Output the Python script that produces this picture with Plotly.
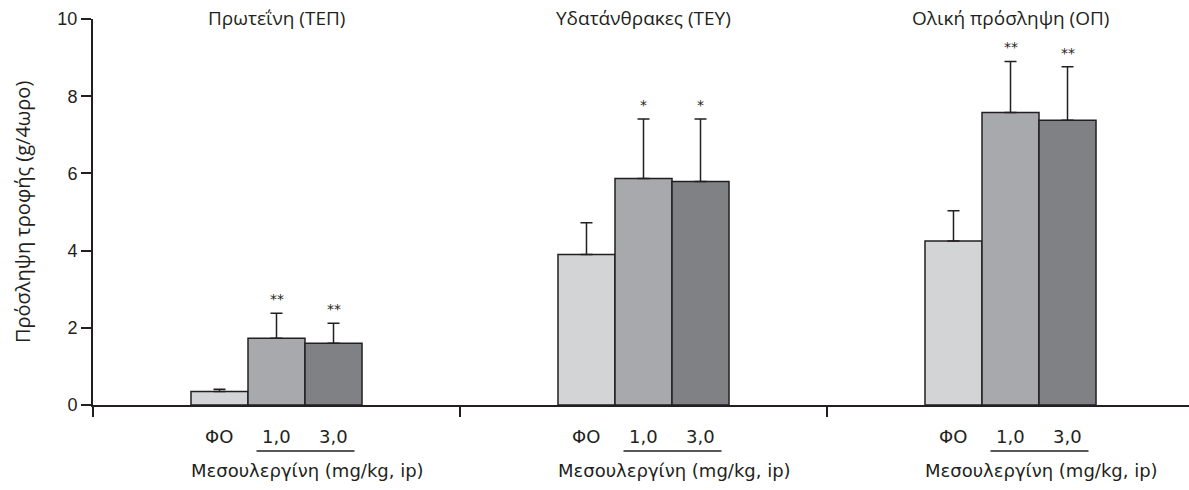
import plotly.graph_objects as go

# ---- data ----
groups = ["Πρωτεΐνη (ΤΕΠ)", "Υδατάνθρακες (ΤΕΥ)", "Ολική πρόσληψη (ΟΠ)"]
doses = ["ΦΟ", "1,0", "3,0"]
means_fo = [0.35, 3.90, 4.25]
means_1 = [1.73, 5.87, 7.58]
means_3 = [1.60, 5.79, 7.38]
sem_fo = [0.06, 0.82, 0.78]
sem_1 = [0.65, 1.54, 1.32]
sem_3 = [0.52, 1.62, 1.38]
stars_fo = ["", "", ""]
stars_1 = ["**", "*", "**"]
stars_3 = ["**", "*", "**"]
drug_label = "Μεσουλεργίνη (mg/kg, ip)"
y_title = "Πρόσληψη τροφής (g/4ωρο)"
y_ticks = [0, 2, 4, 6, 8, 10]

colors = ["#d3d4d6", "#a8a9ad", "#808185"]
edge = "#231f20"
FONT = "DejaVu Sans"
HFONT = "Open Sans"

series = [(means_fo, sem_fo, stars_fo), (means_1, sem_1, stars_1), (means_3, sem_3, stars_3)]
centers = [i + 0.5 for i in range(len(groups))]
BARGAP = 0.534
barw = (1 - BARGAP) / 3

fig = go.Figure()
for j, (m, s, st) in enumerate(series):
    fig.add_trace(go.Bar(
        x=centers, y=m, name=doses[j],
        marker=dict(color=colors[j], line=dict(color=edge, width=1.5)),
        error_y=dict(type="data", array=s, arrayminus=[0] * len(s), symmetric=False,
                     color=edge, thickness=1.5, width=6),
        showlegend=False,
    ))

ann = []
shapes = []
for i, c in enumerate(centers):
    ann.append(dict(x=c, y=1, xref="x", yref="paper", text=groups[i], showarrow=False,
                    yanchor="middle", yshift=1, font=dict(family=HFONT, size=19, color="#231f20")))
    for j, (m, s, st) in enumerate(series):
        xo = c + (j - 1) * barw
        ann.append(dict(x=xo, y=0, xref="x", yref="y", text=doses[j], showarrow=False,
                        yanchor="middle", yshift=-31, font=dict(family=FONT, size=18, color="#231f20")))
        if st[i]:
            ann.append(dict(x=xo, y=m[i] + s[i], xref="x", yref="y", text=st[i], showarrow=False,
                            yanchor="bottom", yshift=4, font=dict(family=FONT, size=14, color="#231f20")))
    ann.append(dict(x=c, y=0, xref="x", yref="y", text=drug_label, showarrow=False,
                    yanchor="middle", yshift=-65, xshift=31, font=dict(family=FONT, size=18, color="#231f20")))
    shapes.append(dict(type="line", xref="x", yref="paper", xsizemode="pixel", ysizemode="pixel",
                       xanchor=c, yanchor=0, x0=-20, x1=78, y0=-46, y1=-46,
                       line=dict(color=edge, width=1.5)))

ann.append(dict(x=0, y=0.5, xref="paper", yref="paper", text=y_title, textangle=-90, showarrow=False,
                xanchor="center", yanchor="middle", xshift=-71,
                font=dict(family=HFONT, size=20, color="#231f20")))

fig.update_layout(
    width=1189, height=490,
    margin=dict(l=93, r=0, t=19, b=85),
    paper_bgcolor="white", plot_bgcolor="white",
    barmode="group", bargap=BARGAP, bargroupgap=0,
    annotations=ann, shapes=shapes,
    font=dict(family=FONT, color="#231f20"),
)
fig.update_xaxes(range=[0, 1096 / 367], tickvals=[0, 1, 2, 3], ticks="outside", ticklen=10,
                 tickwidth=1.5, tickcolor=edge, showticklabels=False, showline=True,
                 linecolor=edge, linewidth=2, showgrid=False, zeroline=False)
fig.update_yaxes(range=[0, 10], tickvals=y_ticks, ticks="outside", ticklen=10, tickwidth=1.5,
                 tickcolor=edge, showline=True, linecolor=edge, linewidth=2, showgrid=False,
                 zeroline=False, tickfont=dict(family="Liberation Sans", size=18, color="#231f20"))

fig.write_html("out.html")
